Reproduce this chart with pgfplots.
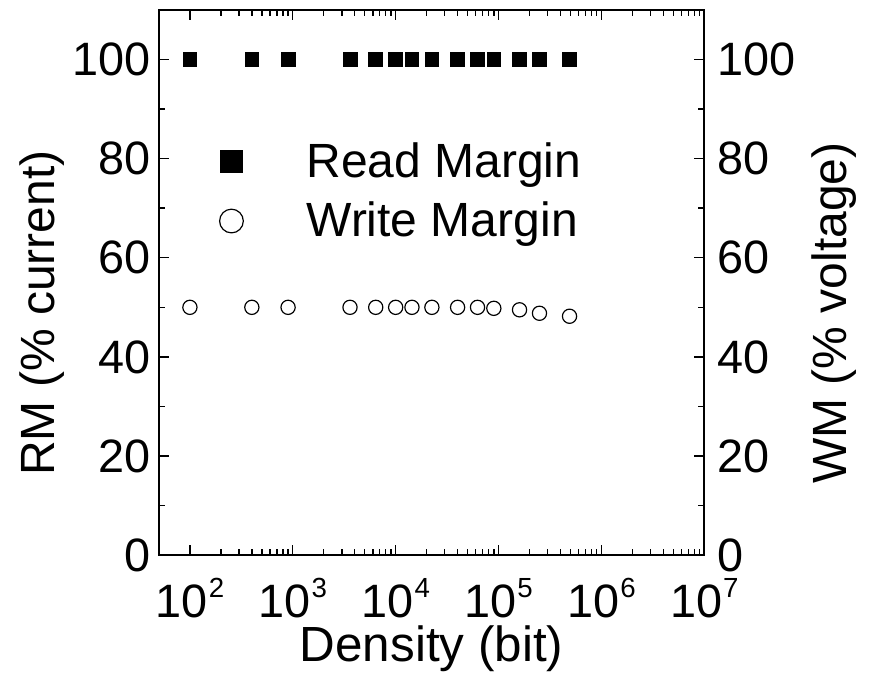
\documentclass[border=0pt]{standalone}
\usepackage{fontspec}
\setmainfont{Liberation Sans}
\usepackage{pgfplots}
\pgfplotsset{compat=1.18}
\newcommand{\ex}[1]{10\kern0.5pt\raisebox{10pt}{\fontsize{14}{14}\selectfont #1}}
\pgfplotsset{
 every axis/.append style={
  scale only axis, width=276pt, height=276pt,
  xmin=50, xmax=1e7, ymin=0, ymax=110,
  ytick={0,20,...,100}, minor ytick={10,30,...,110},
  tick align=inside, major tick length=5pt, minor tick length=3pt,
  axis line style={line width=1pt},
  every tick/.style={line width=0.7pt, black},
  ticklabel style={font=\fontsize{23.7}{23.7}\selectfont, inner sep=0pt},
  /pgf/number format/assume math mode=true,
 }
}
\begin{document}
\begin{tikzpicture}
\begin{semilogxaxis}[
  xtick={1e2,1e3,1e4,1e5,1e6,1e7},
  xticklabels={\ex{2},\ex{3},\ex{4},\ex{5},\ex{6},\ex{7}},
  xticklabel style={anchor=north, yshift=-11.5pt},
  yticklabel style={anchor=east, xshift=-4pt},
  xlabel={Density (bit)},
  xlabel style={at={([yshift=-54pt]axis description cs:0.5,0)}, anchor=base, font=\fontsize{25}{25}\selectfont},
  ylabel={RM (\% current)},
  ylabel style={at={([xshift=-53pt,yshift=-15.5pt]axis description cs:0,0.5)}, anchor=base, rotate=0, font=\fontsize{24.3}{24.3}\selectfont},
  legend style={draw=none, fill=none, inner sep=0pt, at={([xshift=30.5pt,yshift=-65pt]rel axis cs:0,1)}, anchor=north west,
    font=\fontsize{24.3}{24.3}\selectfont, row sep=7pt, column sep=30pt, cells={anchor=west}},
  legend image code/.code={\draw[#1] plot coordinates {(0pt,0pt)};},
]
\addplot[only marks, mark=square*, mark size=3.5pt, black, legend image post style={mark size=5.5pt}] coordinates {
(100,100) (400,100) (900,100) (3600,100) (6400,100) (10000,100) (14400,100) (22500,100) (40000,100) (62500,100) (90000,100) (160000,100) (250000,100) (490000,100)};
\addlegendentry{Read Margin}
\addplot[only marks, mark=o, mark size=3.6pt, black, line width=0.6pt, mark options={fill=white}, legend image post style={mark size=6pt}] coordinates {
(100,50) (400,50) (900,50) (3600,50) (6400,50) (10000,50) (14400,50) (22500,50) (40000,50) (62500,50) (90000,49.8) (160000,49.5) (250000,48.8) (490000,48.2)};
\addlegendentry{Write Margin}
\end{semilogxaxis}
\begin{semilogxaxis}[xtick=\empty, minor xtick={}, xticklabels={},
  yticklabel pos=right,
  yticklabel style={anchor=west, xshift=6.5pt},
  ylabel={WM (\% voltage)},
  ylabel style={at={([xshift=72pt,yshift=-15.5pt]axis description cs:1,0.5)}, anchor=base, rotate=0, font=\fontsize{24.3}{24.3}\selectfont}]
\end{semilogxaxis}
\path ([shift={(-6.5pt,4.5pt)}]current bounding box.north west) rectangle ([shift={(4pt,-0.5pt)}]current bounding box.south east);
\end{tikzpicture}
\end{document}
